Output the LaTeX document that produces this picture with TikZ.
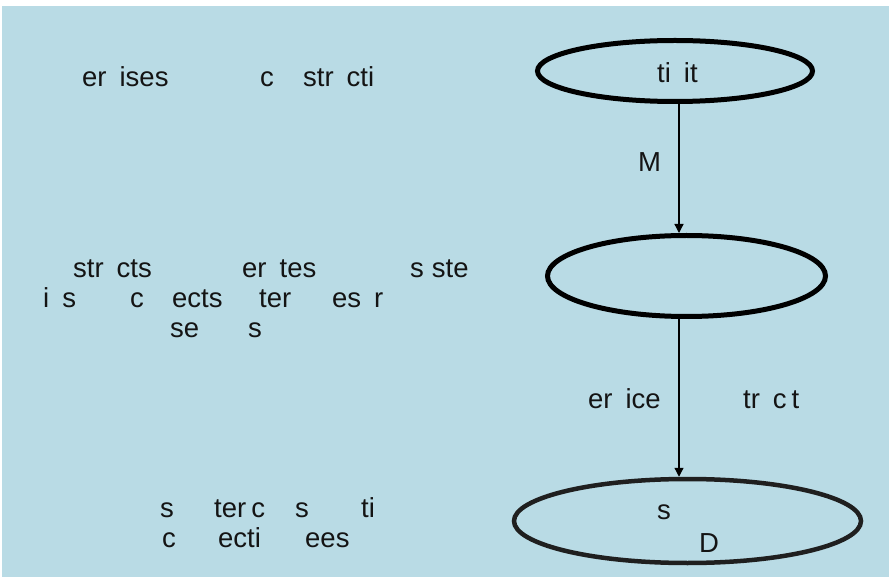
\documentclass[tikz,border=0pt]{standalone}
\usepackage{fontspec}
\setmainfont[WordSpace=1.7]{Liberation Sans}
\usetikzlibrary{shapes.geometric,arrows.meta}
\definecolor{panel}{RGB}{185,219,229}
\definecolor{ink}{RGB}{20,20,20}
\newcommand{\tightgap}[1][5pt]{\hspace{#1}}
\begin{document}
\begin{tikzpicture}[x=1pt,y=-1pt,
  txt/.style={anchor=base west,inner sep=0pt,text=ink,font=\fontsize{27.5}{30}\selectfont},
  oval/.style={ellipse,draw=black,line width=5pt,inner sep=0pt},
  link/.style={draw=black,line width=1.3pt,-{Triangle[length=9pt,width=9pt]}}]
\useasboundingbox (0,0) rectangle (892,577);
\fill[white] (0,0) rectangle (892,577);
\fill[panel] (2,6) rectangle (889,577);

% the three stages on the right
\node[oval,minimum width=275pt,minimum height=61pt] (top) at (675,71) {};
\node[oval,minimum width=278pt,minimum height=81pt] (mid) at (686.5,276) {};
\node[oval,draw=black!88,line width=4.5pt,minimum width=347pt,minimum height=84pt] (bot) at (687.5,521) {};

\node[txt] (topt) at (657,83) {ti it};
\node[txt] (bs) at (657,519) {s};
\node[txt] (bd) at (699,552) {D};

% connectors between the stages
\coordinate (lane) at (679,0);
\draw[link] (top.south -| lane) -- (mid.north -| lane);
\draw[link] (mid.south -| lane) -- (bot.north -| lane);
\node[txt] (m) at (638,172) {M};
\node[txt] (ea) at (588,409) {er ice};
\node[txt] (eb) at (743,409) {tr c\tightgap t};

% notes on the left
\node[txt] (a1) at (82,87) {er ises};
\node[txt] (a2) at (260,87) {c};
\node[txt] (a3) at (303,87) {str cti};

\node[txt] (b1) at (73,278) {str cts};
\node[txt] (b2) at (242,278) {er tes};
\node[txt] (b3) at (410,278) {s\tightgap[8pt]ste};
\node[txt] (b4) at (43,308) {i s};
\node[txt] (b5) at (130,308) {c};
\node[txt] (b6) at (172,308) {ects};
\node[txt] (b7) at (259,308) {ter};
\node[txt] (b8) at (332,308) {es r};
\node[txt] (b9) at (170,338) {se};
\node[txt] (b10) at (248,338) {s};

\node[txt] (c1) at (160,517) {s};
\node[txt] (c2) at (214,517) {ter\tightgap c};
\node[txt] (c3) at (295,517) {s};
\node[txt] (c4) at (361,517) {ti};
\node[txt] (c5) at (162,547) {c};
\node[txt] (c6) at (218,547) {ecti};
\node[txt] (c7) at (305,547) {ees};
\end{tikzpicture}
\end{document}
